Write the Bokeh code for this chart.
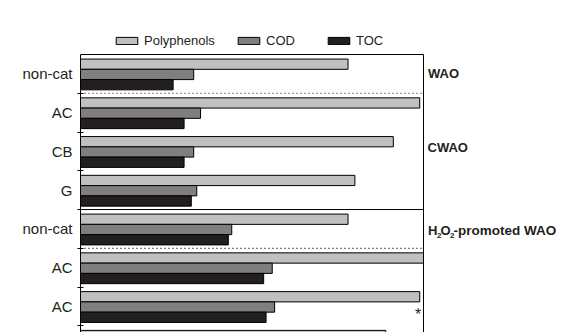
import numpy as np
from bokeh.plotting import figure
from bokeh.models import (Range1d, FixedTicker, Label, Legend, LegendItem,
                          ColumnDataSource)
from bokeh.embed import file_html
from bokeh.resources import INLINE

# ---- data ----
categories = ["non-cat", "AC", "CB", "G", "non-cat", "AC", "AC", ""]
polyphenols = [78.0, 98.9, 91.2, 80.0, 78.0, 100.0, 98.9, 89.0]
cod = [33.0, 35.0, 33.0, 33.9, 44.1, 55.9, 56.6, np.nan]
toc = [27.0, 30.2, 30.2, 32.3, 43.1, 53.4, 54.1, np.nan]
series_names = ["Polyphenols", "COD", "TOC"]
process_labels = ["WAO", "CWAO", "-promoted WAO"]

FONT = "Liberation Sans"
TXT = "#231f20"
colors = ["#bfc0c2", "#7f7f80", "#231f20"]

# ---- layout constants (pixels) ----
W, H = 584, 332
LEFT = 80          # frame left (axis)
PLOT_W = 343       # width of the 0..100 scale
TOP = 54           # top of the boxed area
GROUP_PX = 38.76   # height of one category group

n = len(categories)
idx = np.arange(n)
BAR_H = 0.265
offsets = [0.25, 0.515, 0.78]

x_end = 100 * (W - LEFT) / PLOT_W
y_top = -TOP / GROUP_PX
y_bot = (H - TOP) / GROUP_PX

p = figure(width=W, height=H, output_backend="svg", toolbar_location=None,
           x_range=Range1d(0, x_end), y_range=Range1d(y_bot, y_top),
           x_axis_location=None, y_axis_location="left",
           min_border_left=LEFT, min_border_right=0, min_border_top=0,
           min_border_bottom=0)
p.outline_line_color = None
p.xgrid.visible = False
p.ygrid.visible = False
p.background_fill_color = "white"
p.border_fill_color = "white"

renderers = []
for vals, off, col in zip([polyphenols, cod, toc], offsets, colors):
    src = ColumnDataSource(dict(y=idx + off, right=np.array(vals, dtype=float)))
    r = p.hbar(y="y", right="right", left=0, height=BAR_H, source=src,
               fill_color=col, line_color="black", line_width=1)
    renderers.append(r)

ax = p.yaxis[0]
ax.bounds = (0, y_bot)
ax.ticker = FixedTicker(ticks=list(idx + 0.5), minor_ticks=list(range(1, n)))
ax.major_label_overrides = {float(i + 0.5): c for i, c in enumerate(categories)}
ax.major_tick_line_color = None
ax.major_tick_in = 0
ax.major_tick_out = 0
ax.minor_tick_line_color = "black"
ax.minor_tick_in = 3
ax.minor_tick_out = 3
ax.axis_line_color = "black"
ax.axis_line_width = 1
ax.major_label_text_font = FONT
ax.major_label_text_font_size = "15px"
ax.major_label_text_color = TXT
ax.major_label_standoff = 5

# box lines: top, right, solid separator, dotted separators
p.segment(x0=[0, 100, 0], y0=[0, 0, 4], x1=[100, 100, 100], y1=[0, y_bot, 4],
          line_color="black", line_width=1)
p.segment(x0=[0, 0], y0=[1, 5], x1=[100, 100], y1=[1, 5],
          line_color="black", line_width=1.2, line_dash="1 3")

# legends (one per series)
leg_x = [33, 155, 245]
for r, name, lx in zip(renderers, series_names, leg_x):
    lg = Legend(items=[LegendItem(label=name, renderers=[r])], location=(lx, 284),
                orientation="horizontal", glyph_width=27, glyph_height=9,
                label_standoff=4, padding=0, margin=0, spacing=0,
                border_line_color=None, background_fill_alpha=0,
                label_text_font=FONT, label_text_font_size="13px",
                label_text_color=TXT, label_height=14)
    p.add_layout(lg)

# process labels on the right
def lab(text, y, xoff, size="13px", yoff=0):
    p.add_layout(Label(x=100, y=y, x_offset=xoff, y_offset=yoff, text=text,
                       text_font=FONT, text_font_size=size, text_font_style="bold",
                       text_color=TXT, text_baseline="middle", text_align="left"))

lab(process_labels[0], 0.5, 4.5)
lab(process_labels[1], 2.39, 4)
ys = 4.55
lab("H", ys, 4.5)
lab("2", ys, 13.5, size="8px", yoff=-5)
lab("O", ys, 17)
lab("2", ys, 26.5, size="8px", yoff=-5)
lab(process_labels[2], ys, 30, size="13.5px")

p.add_layout(Label(x=100, y=6.72, x_offset=-5.3, text="*", text_font=FONT,
                   text_font_size="16px", text_color=TXT, text_baseline="middle",
                   text_align="center"))

open("out.html", "w").write(file_html(p, INLINE))
